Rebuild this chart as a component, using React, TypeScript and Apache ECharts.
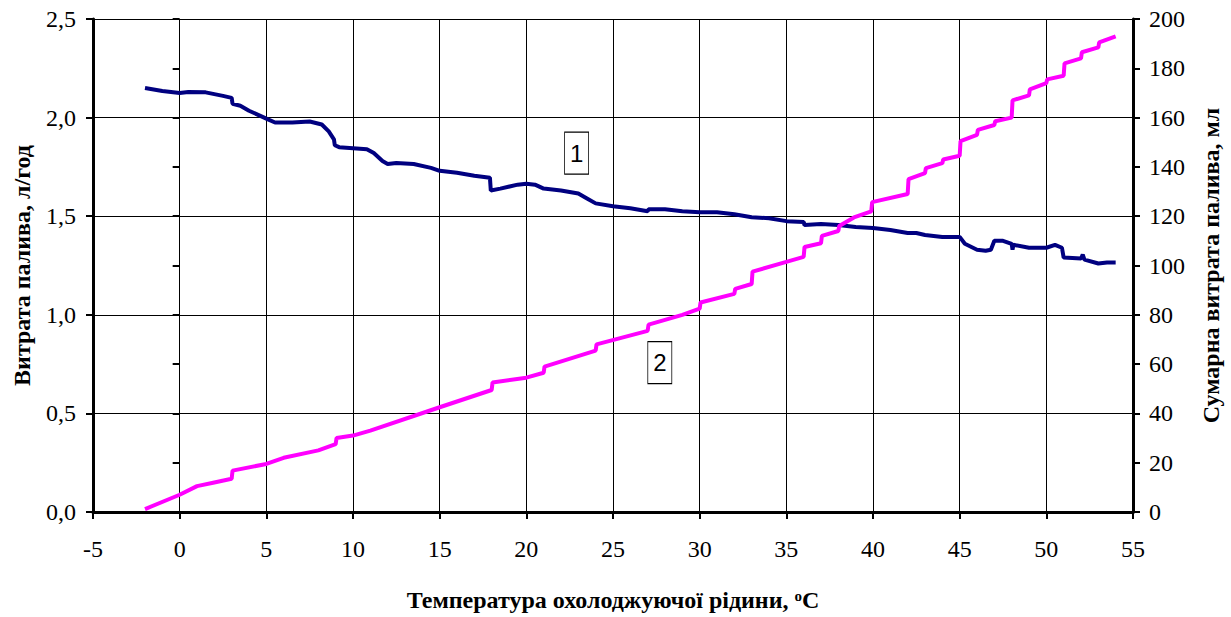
import React, { useEffect, useRef } from "react";
import * as echarts from "echarts";

// Series 1: fuel consumption rate, л/год (left axis)
const temp1 = [-2, -1, 0, 0.5, 1.5, 2.5, 3, 3.05, 3.5, 4, 5, 5.5, 6.5, 7.5, 8.2, 8.6, 8.9, 8.95, 9.2, 10, 10.8, 11.2, 11.7, 12, 12.5, 13.5, 14.5, 15, 16, 17, 17.9, 17.95, 18.5, 19.5, 20, 20.5, 21, 22, 23, 23.5, 24, 25, 26, 27, 27.05, 28, 29, 30, 31, 32, 33, 34, 35, 36, 36.05, 37, 38, 39, 40, 41, 42, 42.5, 43, 44, 45, 45.3, 46, 46.5, 46.8, 47, 47.5, 48, 48.05, 48.1, 49, 50, 50.5, 50.9, 51, 52, 52.1, 52.2, 53, 53.5, 54];
const flow = [2.15, 2.135, 2.125, 2.13, 2.128, 2.11, 2.1, 2.07, 2.06, 2.035, 1.995, 1.975, 1.975, 1.98, 1.965, 1.93, 1.89, 1.86, 1.85, 1.845, 1.84, 1.82, 1.78, 1.765, 1.77, 1.765, 1.745, 1.73, 1.72, 1.705, 1.695, 1.63, 1.64, 1.66, 1.665, 1.66, 1.64, 1.63, 1.615, 1.59, 1.565, 1.55, 1.54, 1.525, 1.535, 1.535, 1.525, 1.52, 1.52, 1.51, 1.495, 1.49, 1.475, 1.47, 1.455, 1.46, 1.455, 1.445, 1.44, 1.43, 1.415, 1.415, 1.405, 1.395, 1.395, 1.36, 1.33, 1.325, 1.33, 1.375, 1.375, 1.36, 1.33, 1.355, 1.34, 1.34, 1.355, 1.34, 1.29, 1.285, 1.305, 1.28, 1.26, 1.265, 1.265];

// Series 2: cumulative fuel consumption, мл (right axis)
const temp2 = [-2, 0, 1, 2, 3, 3.05, 5, 6, 8, 9, 9.05, 10, 11, 15, 18, 18.05, 20, 21, 21.05, 24, 24.05, 27, 27.05, 29, 30, 30.05, 32, 32.05, 33, 33.05, 35, 36, 36.05, 37, 37.05, 38, 38.05, 38.9, 39.9, 39.95, 42, 42.05, 43, 43.05, 44, 44.05, 45, 45.05, 46, 46.05, 47, 47.05, 48, 48.05, 49, 49.05, 50, 50.05, 51, 51.05, 52, 52.05, 53, 53.05, 54];
const cumul = [1.2, 7, 10.5, 12, 13.5, 16.8, 19.5, 22, 25, 27.5, 30, 31, 33, 42.5, 49.5, 52.5, 54.5, 56.5, 59, 65.5, 68, 73.5, 76, 80, 82.5, 85, 88.5, 90.5, 92.5, 97.5, 101.5, 103.5, 107.5, 109, 112, 114, 116, 119.5, 122, 125.7, 129, 135, 137.5, 139.5, 141.5, 143, 144.5, 150.5, 153, 155, 157, 158.5, 160, 167, 169, 171.5, 174, 175.5, 177, 182, 184, 186.5, 188.5, 190.5, 193];

// Curve annotations
const tagTexts = ["1", "2"];
const tagTemps = [22.9, 27.7];
const tagValues = [1.82, 60.6];

const leftTicks = { min: 0, max: 2.5, interval: 0.5 };
const rightTicks = { min: 0, max: 200, interval: 20 };
const xTicks = { min: -5, max: 55, interval: 5 };

const xName = "Температура охолоджуючої рідини, {sup|o}C";
const leftName = "Витрата палива, л/год";
const rightName = "Сумарна витрата палива, мл";

const SERIF = "'Liberation Serif', 'Times New Roman', serif";
const SANS = "'Liberation Sans', Arial, sans-serif";

export default function App() {
  const ref = useRef<HTMLDivElement>(null);
  useEffect(() => {
    if (!ref.current) return;
    const chart = echarts.init(ref.current, undefined, { renderer: "svg" });
    const lab = { fontFamily: SERIF, fontSize: 24, color: "#000" };
    const nameStyle = { fontFamily: SERIF, fontSize: 24, fontWeight: "bold", color: "#000" };
    const tagPoint = (i: number) => ({
      coord: [tagTemps[i], tagValues[i]],
      symbol: "rect",
      symbolSize: [24, 42],
      itemStyle: { color: "#fff", borderColor: "#000", borderWidth: 1 },
      label: { show: true, position: "inside", formatter: tagTexts[i], fontFamily: SANS, fontSize: 24, color: "#000" },
    });
    chart.setOption({
      animation: false,
      backgroundColor: "#fff",
      grid: { left: 93, right: 94, top: 19, bottom: 103, containLabel: false },
      xAxis: {
        type: "value",
        ...xTicks,
        name: xName,
        nameLocation: "middle",
        nameGap: 76,
        nameTextStyle: {
          ...nameStyle,
          lineHeight: 24,
          rich: { sup: { fontFamily: SERIF, fontSize: 15, lineHeight: 15, fontWeight: "bold", color: "#000", verticalAlign: "top" } },
        },
        axisLine: { show: true, onZero: false, lineStyle: { color: "#000", width: 3 } },
        axisTick: { show: true, inside: false, length: 7, lineStyle: { color: "#000", width: 2 } },
        axisLabel: { ...lab, margin: 25 },
        splitLine: { show: true, lineStyle: { color: "#000", width: 1 } },
      },
      yAxis: [
        {
          type: "value",
          position: "left",
          ...leftTicks,
          name: leftName,
          nameLocation: "middle",
          nameRotate: 90,
          nameGap: 59,
          nameTextStyle: nameStyle,
          axisLine: { show: true, onZero: false, lineStyle: { color: "#000", width: 3 } },
          axisTick: { show: true, inside: false, length: 7, lineStyle: { color: "#000", width: 2 } },
          axisLabel: { ...lab, margin: 17, formatter: (v: number) => v.toFixed(1).replace(".", ",") },
          splitLine: { show: true, lineStyle: { color: "#000", width: 1 } },
        },
        {
          type: "value",
          position: "right",
          ...rightTicks,
          name: rightName,
          nameLocation: "middle",
          nameRotate: 90,
          nameGap: 66,
          nameTextStyle: nameStyle,
          axisLine: { show: true, onZero: false, lineStyle: { color: "#000", width: 3 } },
          axisTick: { show: true, inside: false, length: 7, lineStyle: { color: "#000", width: 2 } },
          axisLabel: { ...lab, margin: 16 },
          splitLine: { show: false },
        },
        {
          type: "value",
          position: "right",
          ...rightTicks,
          axisLine: { show: false },
          axisTick: { show: true, inside: true, length: 7, lineStyle: { color: "#000", width: 2 } },
          axisLabel: { show: false },
          splitLine: { show: false },
        },
      ],
      series: [
        {
          type: "line",
          yAxisIndex: 0,
          data: temp1.map((t, i) => [t, flow[i]]),
          showSymbol: false,
          symbol: "none",
          lineStyle: { color: "#000080", width: 4 },
          itemStyle: { color: "#000080" },
          markPoint: { silent: true, data: [tagPoint(0)] },
          z: 3,
        },
        {
          type: "line",
          yAxisIndex: 1,
          data: temp2.map((t, i) => [t, cumul[i]]),
          showSymbol: false,
          symbol: "none",
          lineStyle: { color: "#FF00FF", width: 4 },
          itemStyle: { color: "#FF00FF" },
          markPoint: { silent: true, data: [tagPoint(1)] },
          z: 4,
        },
      ],
    });
    return () => chart.dispose();
  }, []);
  return <div ref={ref} style={{ position: "absolute", left: 0, top: 0, width: 1231, height: 617, overflow: "hidden" }} />;
}
